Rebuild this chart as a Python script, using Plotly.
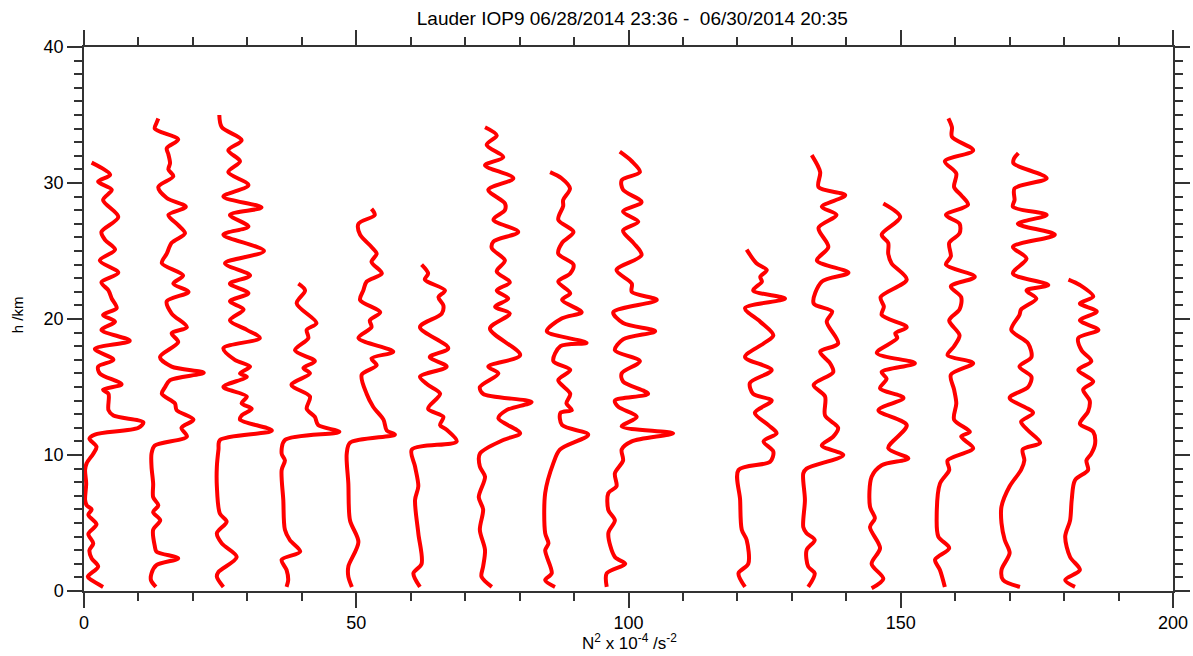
import plotly.graph_objects as go

# Offsets (N^2 units) applied to each successive sounding
offsets = [0, 12, 24, 36, 48, 60, 72, 84, 96, 120, 132, 144, 156, 168, 180]

# Each profile: (height km, N^2 x 1e-4 s^-2) pairs
p1 = [(31.5,1.4),(30.6,4.8),(30.1,2.6),(29.5,5.1),(28.75,3.5),(27.5,6.3),(26.4,3.2),(25.8,3.9),(25.1,5.7),(24.3,2.9),
      (23.4,6.3),(22.7,3.2),(22.1,4.5),(21.5,5.1),(20.8,6.0),(20.3,3.5),(19.8,5.7),(19.2,3.2),(18.4,8.4),(17.8,2.0),
      (17.0,5.4),(16.5,2.6),(16.0,2.9),(15.2,6.9),(14.8,3.5),(14.5,4.5),(13.3,4.5),(12.9,5.4),(12.4,10.9),(12.0,10.0),
      (11.5,2.0),(11.2,1.0),(10.6,2.3),(10.1,1.7),(9.4,0.5),(8.9,0.2),(7.9,0.4),(6.7,0.2),(6.3,0.5),(6.0,1.4),
      (5.6,0.8),(4.9,2.3),(4.2,0.8),(3.5,1.7),(3.0,1.0),(2.4,1.4),(1.8,2.6),(1.05,0.7),(0.8,1.4),(0.3,3.5)]
p2 = [(34.75,1.65),(34.4,1.3),(34.0,1.0),(33.2,5.3),(32.55,3.2),(32.1,3.5),(31.45,3.8),(31.0,3.5),(30.5,4.4),(29.7,1.65),
      (28.9,3.2),(28.25,6.7),(27.65,3.5),(26.9,5.3),(26.3,6.55),(25.6,4.1),(24.8,3.2),(24.1,2.3),(23.2,6.2),(22.6,4.4),
      (22.0,7.2),(21.3,3.2),(20.4,4.1),(19.4,6.9),(18.95,4.1),(18.3,5.3),(17.2,1.95),(16.5,4.1),(16.05,10.0),(15.5,3.8),
      (15.0,2.9),(14.5,2.3),(13.8,4.7),(13.3,5.0),(12.6,8.1),(12.0,5.9),(11.35,6.9),(10.7,1.0),(10.1,0.4),(9.15,0.4),
      (7.9,0.7),(6.9,0.7),(6.3,1.65),(5.8,0.7),(5.2,2.0),(4.5,0.7),(3.3,1.0),(2.9,1.3),(2.4,5.3),(1.9,1.3),
      (1.3,0.4),(0.8,0.3),(0.3,1.2)]
p3 = [(35.0,0.85),(34.1,1.3),(33.15,4.95),(32.4,2.5),(31.6,4.65),(30.8,2.5),(29.85,6.2),(29.0,1.6),(28.2,8.6),(27.65,2.8),
      (26.8,6.2),(26.2,1.6),(25.0,9.06),(24.1,1.9),(23.2,6.5),(22.6,2.8),(21.9,6.2),(21.3,2.8),(20.7,5.3),(19.9,2.8),
      (19.2,5.9),(18.6,8.3),(17.85,1.6),(17.0,3.7),(16.5,6.5),(16.0,4.65),(15.75,5.9),(15.0,1.6),(14.3,5.9),(13.8,4.95),
      (13.4,6.8),(12.9,4.95),(12.6,4.65),(11.8,10.5),(11.1,0.95),(10.4,0.7),(9.15,0.4),(7.7,0.4),(5.7,0.95),(5.1,2.2),
      (4.25,0.4),(3.5,1.3),(2.5,4.05),(1.4,0.7),(1.05,0.4),(0.3,1.6)]
p4 = [(22.6,3.36),(22.1,4.6),(21.15,3.06),(19.7,6.7),(19.2,4.9),(18.6,5.2),(17.7,2.75),(16.9,6.4),(16.4,4.3),(16.0,5.5),
      (15.15,2.1),(14.3,5.5),(13.4,4.9),(12.8,6.4),(12.2,7.0),(11.7,10.9),(11.1,0.9),(10.1,0.3),(9.6,0.9),(8.9,0.3),
      (6.7,0.6),(4.5,0.9),(3.75,1.8),(2.9,3.7),(2.3,0.3),(1.55,1.2),(0.8,1.5),(0.3,1.2)]
p5 = [(28.1,4.8),(27.65,5.4),(27.0,2.4),(26.2,2.7),(25.3,4.8),(24.8,5.75),(24.2,4.8),(23.35,6.7),(22.75,3.9),(22.1,3.3),
      (21.4,2.7),(20.5,6.4),(19.9,4.5),(19.4,4.8),(18.6,2.4),(17.6,8.8),(17.1,4.8),(16.6,5.75),(15.9,3.0),(14.5,3.9),
      (13.55,5.1),(12.6,7.0),(11.8,7.6),(11.5,9.1),(10.9,0.85),(10.1,0.25),(7.9,0.55),(5.2,0.85),(3.6,2.4),(1.8,0.55),
      (1.05,0.55),(0.3,1.2)]
p6 = [(24.0,2.0),(23.35,3.2),(22.9,2.6),(22.1,6.3),(21.6,5.1),(21.0,6.0),(20.4,5.7),(19.4,1.7),(17.85,6.9),(17.2,3.5),
      (16.5,6.6),(15.75,1.7),(15.15,3.2),(14.5,5.4),(13.4,3.2),(12.8,6.0),(12.2,5.4),(11.85,6.6),(11.0,8.45),(10.4,0.2),
      (9.15,0.8),(7.7,1.4),(6.7,0.8),(4.25,1.4),(2.0,2.0),(1.3,0.5),(0.3,1.7)]
p7 = [(34.1,1.65),(33.5,3.8),(32.8,1.95),(31.9,5.0),(31.3,1.65),(30.35,6.85),(29.5,2.25),(28.5,5.3),(28.0,5.3),(27.3,3.2),
      (26.4,7.75),(25.7,3.2),(25.2,2.9),(24.3,5.3),(23.5,3.8),(22.7,6.2),(22.1,3.8),(21.5,5.9),(20.9,3.5),(20.4,6.2),
      (19.3,2.55),(17.35,8.1),(16.5,2.25),(16.0,4.1),(15.0,0.7),(14.5,1.3),(13.9,10.2),(13.3,5.6),(12.7,4.1),(11.6,8.1),
      (11.1,5.0),(10.1,0.7),(9.15,0.7),(8.4,1.65),(6.9,0.5),(6.0,1.3),(4.5,0.7),(3.0,1.65),(1.8,1.3),(1.05,1.0),(0.3,2.9)]
p8 = [(30.8,1.6),(30.35,3.7),(29.6,5.25),(28.75,4.0),(28.3,4.0),(27.3,3.1),(26.4,5.9),(25.6,3.8),(24.8,3.1),(24.0,5.9),
      (23.35,5.3),(22.75,3.1),(21.9,5.3),(21.4,3.8),(20.5,7.4),(20.05,3.8),(19.1,1.0),(18.25,8.3),(18.0,3.5),(16.9,2.2),
      (16.25,5.3),(15.5,3.1),(14.5,5.3),(13.8,4.6),(13.3,5.6),(13.1,3.5),(12.2,3.8),(11.5,8.6),(10.4,3.4),(9.4,2.2),
      (7.2,0.7),(4.25,0.7),(3.5,1.3),(3.0,0.7),(1.3,1.9),(0.8,0.7),(0.3,2.5)]
p9 = [(32.3,2.4),(31.6,4.6),(30.8,6.1),(30.2,2.75),(29.5,3.0),(28.6,6.4),(27.9,3.0),(27.15,5.8),(26.5,3.0),(25.6,4.9),
      (24.7,6.4),(23.6,1.8),(22.6,4.6),(22.0,4.6),(21.4,9.2),(20.5,1.2),(19.7,3.0),(19.1,8.9),(18.5,3.0),(17.7,1.5),
      (16.9,6.1),(16.0,2.75),(15.4,3.0),(14.5,7.6),(14.0,1.5),(13.55,2.1),(12.8,5.5),(12.1,2.75),(11.6,12.2),(11.0,4.6),
      (10.4,2.75),(9.6,3.0),(8.65,1.5),(7.7,1.8),(7.2,0.3),(5.95,0.3),(5.2,1.5),(4.25,0.3),(2.5,1.5),(2.0,3.4),
      (1.3,0.0),(0.3,0.0)]
p10 = [(25.1,1.7),(24.1,3.5),(23.6,5.4),(23.1,4.2),(22.75,4.5),(22.1,2.9),(21.5,8.75),(20.8,1.4),(19.8,4.2),(18.8,6.6),
       (18.2,4.8),(17.2,1.4),(16.25,6.3),(15.3,2.3),(14.5,2.9),(14.0,6.3),(13.1,3.2),(12.2,5.7),(11.6,7.2),(11.0,4.8),
       (10.25,6.6),(9.5,6.0),(8.9,0.2),(6.7,0.5),(4.5,0.8),(3.75,1.7),(2.0,2.0),(1.3,0.2),(0.3,1.4)]
p11 = [(32.05,1.65),(30.8,3.2),(29.7,2.9),(29.1,7.8),(28.25,3.5),(27.65,6.2),(26.7,2.9),(25.3,4.7),(24.3,2.6),(23.4,8.4),
       (22.75,3.5),(21.15,2.0),(20.55,5.4),(19.8,4.4),(18.2,6.5),(17.6,3.2),(16.75,5.0),(16.1,5.6),(15.15,2.0),(14.3,4.1),
       (12.9,4.1),(12.0,6.5),(11.35,5.6),(10.7,3.5),(10.0,7.45),(9.0,0.7),(8.65,0.1),(6.7,0.4),(4.7,0.1),(4.25,0.7),
       (3.75,2.2),(3.0,0.7),(1.8,1.0),(1.3,2.2),(0.3,1.0)]
p12 = [(28.5,2.8),(27.5,5.9),(26.2,2.5),(25.6,3.7),(24.8,3.7),(24.1,4.3),(22.9,7.1),(21.6,2.3),(20.9,2.9),(20.3,2.5),
       (19.4,7.1),(18.95,5.0),(18.6,5.35),(17.5,1.6),(16.75,8.6),(16.1,2.5),(15.6,3.4),(14.9,2.2),(14.2,6.5),(13.3,1.9),
       (12.2,7.1),(10.5,3.7),(9.75,7.4),(9.25,2.5),(8.4,0.65),(6.2,0.35),(5.35,1.25),(4.7,0.35),(3.15,2.2),(2.0,0.65),
       (0.9,2.8),(0.2,0.65)]
p13 = [(34.75,2.75),(34.1,3.4),(33.4,3.4),(32.4,7.3),(31.6,2.1),(30.7,4.2),(29.7,3.8),(29.1,5.1),(28.4,6.35),(27.65,2.3),
       (27.0,4.8),(26.3,4.8),(25.6,2.9),(24.6,3.2),(24.0,2.3),(23.1,7.6),(22.4,3.2),(21.6,5.1),(20.7,4.8),(19.9,2.9),
       (18.8,4.8),(18.0,3.8),(17.35,2.6),(16.75,7.3),(15.9,3.2),(14.8,3.8),(13.8,4.2),(12.6,3.8),(11.7,6.7),(11.35,5.1),
       (10.5,7.3),(9.6,2.6),(8.9,2.9),(7.9,1.2),(5.5,0.6),(4.0,0.9),(3.15,2.9),(2.3,0.3),(1.55,1.2),(0.3,2.1)]
p14 = [(32.2,3.6),(31.8,2.8),(31.45,2.7),(30.35,8.8),(29.6,2.9),(28.75,2.9),(28.25,2.6),(27.65,8.8),(27.0,3.5),(26.2,10.3),
       (25.3,2.6),(24.45,5.1),(23.35,2.6),(22.5,9.1),(22.1,5.1),(21.5,6.9),(20.7,4.1),(20.3,3.8),(19.2,2.3),(18.2,5.4),
       (17.2,6.0),(16.5,3.8),(15.75,6.0),(15.0,5.4),(14.2,2.0),(13.1,6.3),(12.45,4.1),(11.8,5.4),(10.9,7.6),(10.4,4.4),
       (9.6,4.7),(8.9,4.1),(7.7,2.0),(6.2,0.5),(5.0,0.5),(3.75,1.1),(2.8,2.0),(1.55,0.5),(0.8,0.8),(0.3,3.9)]
p15 = [(22.9,0.8),(22.5,2.9),(21.65,5.35),(21.15,2.9),(20.55,6.0),(19.9,2.9),(19.2,6.3),(18.6,2.6),(17.7,3.2),(16.9,5.0),
       (16.25,2.6),(15.4,5.35),(14.8,3.5),(14.0,4.7),(13.2,4.4),(12.3,2.9),(11.7,5.35),(10.85,5.7),(10.1,5.0),(9.6,4.1),
       (8.9,4.4),(8.15,2.0),(6.7,1.4),(5.2,1.1),(4.0,0.2),(2.5,1.1),(1.55,2.9),(0.8,0.2),(0.3,2.0)]

profiles = [p1, p2, p3, p4, p5, p6, p7, p8, p9, p10, p11, p12, p13, p14, p15]

title_text = "Lauder IOP9 06/28/2014 23:36 -  06/30/2014 20:35"
x_title = "N<sup>2</sup> x 10<sup>-4</sup> /s<sup>-2</sup>"
y_title = "h /km"
x_ticks = [0, 50, 100, 150, 200]
y_ticks = [0, 10, 20, 30, 40]

fig = go.Figure()
for off, prof in zip(offsets, profiles):
    fig.add_trace(go.Scatter(
        x=[n + off for h, n in prof],
        y=[h for h, n in prof],
        mode="lines",
        line=dict(color="#ff0000", width=4, shape="spline", smoothing=0.85),
        hoverinfo="skip",
    ))

axcol = "#333333"
common = dict(
    showgrid=False, zeroline=False, showline=True, linecolor=axcol, linewidth=1.5,
    mirror="ticks", ticks="outside", ticklen=15, tickwidth=1.5, tickcolor=axcol,
    tickfont=dict(size=18, color="black"),
)
fig.update_xaxes(range=[0, 200], tickvals=x_ticks, **common,
                 minor=dict(dtick=10, ticks="outside", ticklen=8, tickwidth=1.5, tickcolor=axcol))
fig.update_yaxes(range=[0, 40], tickvals=y_ticks, **common,
                 minor=dict(dtick=1, ticks="outside", ticklen=8, tickwidth=1.5, tickcolor=axcol))

# Axis titles placed as annotations for precise positioning
fig.add_annotation(text=x_title, xref="paper", yref="paper", x=0.501, y=-0.094,
                   xanchor="center", yanchor="middle", showarrow=False,
                   font=dict(size=17, color="black"))
fig.add_annotation(text=y_title, xref="paper", yref="paper", x=-0.061, y=0.508,
                   xanchor="center", yanchor="middle", showarrow=False, textangle=-90,
                   font=dict(size=15, color="black"))

fig.update_layout(
    width=1193, height=656,
    margin=dict(l=84, r=20, t=47, b=65, autoexpand=False),
    plot_bgcolor="white", paper_bgcolor="white",
    showlegend=False,
    font=dict(family="Liberation Sans, Arial, sans-serif", color="black"),
    title=dict(text=title_text, x=0.53, xanchor="center", y=1 - 18/656, yref="container", yanchor="middle",
               font=dict(size=19, color="black")),
)

fig.write_html("out.html")
